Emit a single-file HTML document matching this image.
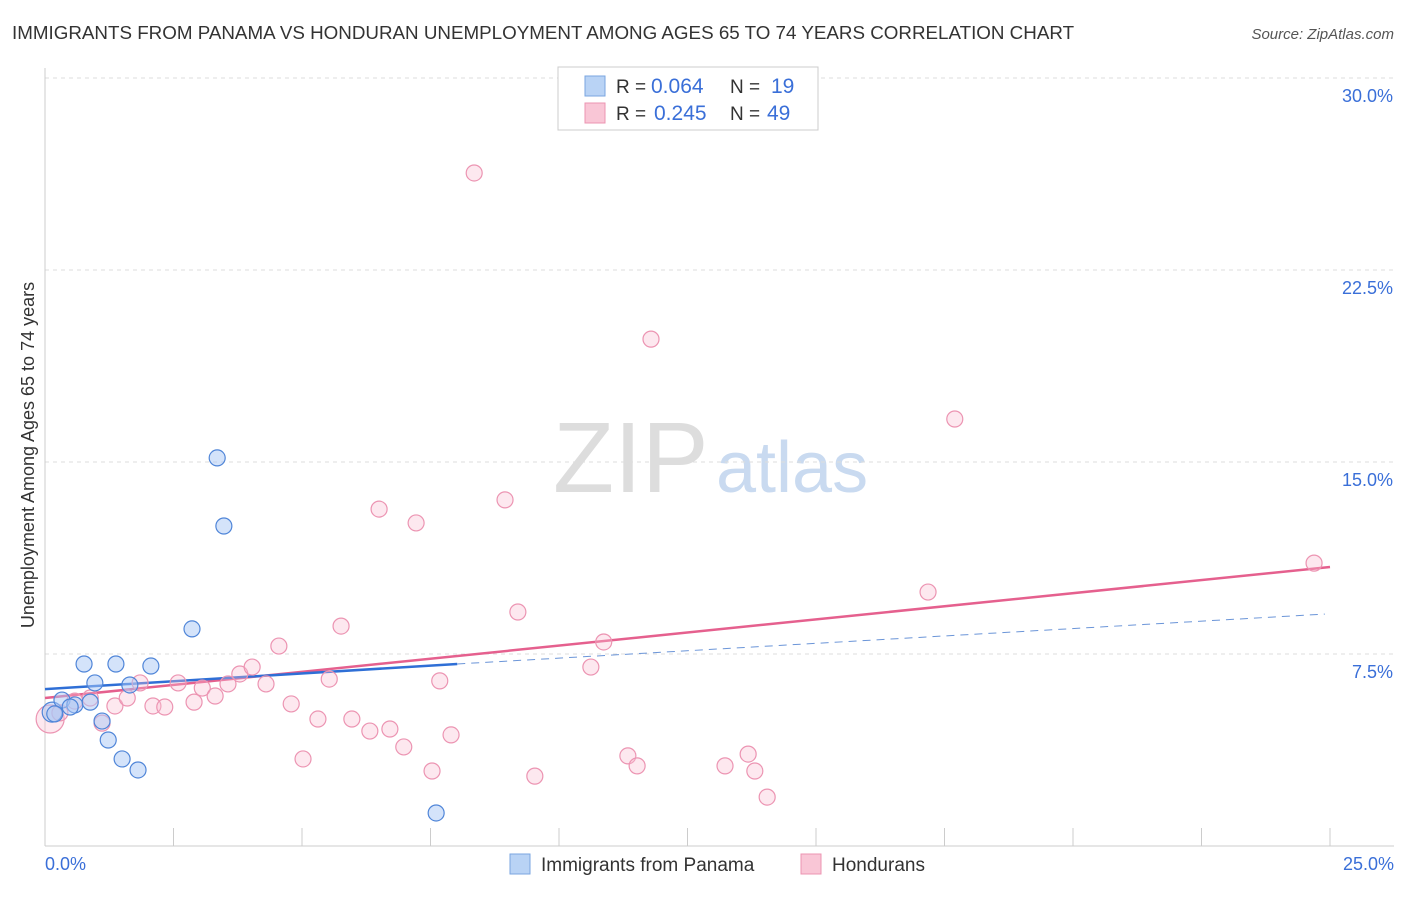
<!DOCTYPE html>
<html><head><meta charset="utf-8"><style>
body{margin:0;background:#fff;font-family:"Liberation Sans",sans-serif;}
svg text{font-family:"Liberation Sans",sans-serif;}
</style></head><body>
<svg id="chart" width="1406" height="892" xmlns="http://www.w3.org/2000/svg">
<text x="12" y="39" font-size="18.8" fill="#333">IMMIGRANTS FROM PANAMA VS HONDURAN UNEMPLOYMENT AMONG AGES 65 TO 74 YEARS CORRELATION CHART</text>
<text x="1394" y="39" font-size="15" fill="#555" text-anchor="end" font-style="italic">Source: ZipAtlas.com</text>
<g>
<text x="553" y="492" font-size="100" fill="#ddd" font-family="Liberation Serif,serif">ZIP</text>
<text x="716" y="492" font-size="72" fill="#c9daf0">atlas</text>
</g>
<g id="grid"></g><g id="axes"></g><g id="lines"></g><g id="pts"></g>
<text x="34" y="455" font-size="18" fill="#333" transform="rotate(-90 34 455)" text-anchor="middle">Unemployment Among Ages 65 to 74 years</text>
<text x="45" y="870" font-size="18" fill="#3a6fd8">0.0%</text>
<text x="1394" y="870" font-size="18" fill="#3a6fd8" text-anchor="end">25.0%</text>
<g>
<rect x="558" y="67" width="260" height="63" fill="#fff" stroke="#ccc"/>
<rect x="585" y="76" width="20" height="20" fill="#b9d3f5" stroke="#7aa6e0"/>
<rect x="585" y="103" width="20" height="20" fill="#f9c6d6" stroke="#ec94b2"/>
<text x="616" y="93" font-size="19" fill="#333">R = <tspan x="651" font-size="21" fill="#3a6fd8">0.064</tspan></text>
<text x="730" y="93" font-size="19" fill="#333">N = <tspan x="771" font-size="21" fill="#3a6fd8">19</tspan></text>
<text x="616" y="120" font-size="19" fill="#333">R = <tspan x="654" font-size="21" fill="#3a6fd8">0.245</tspan></text>
<text x="730" y="120" font-size="19" fill="#333">N = <tspan x="767" font-size="21" fill="#3a6fd8">49</tspan></text>
</g>
<g>
<rect x="510" y="854" width="20" height="20" fill="#b9d3f5" stroke="#7aa6e0"/>
<text x="541" y="871" font-size="19" fill="#333">Immigrants from Panama</text>
<rect x="801" y="854" width="20" height="20" fill="#f9c6d6" stroke="#ec94b2"/>
<text x="832" y="871" font-size="19" fill="#333">Hondurans</text>
</g>
</svg>
<script>
const yTicks=[7.5,15,22.5,30];
const yTickLabels=["7.5%","15.0%","22.5%","30.0%"];
const xTicks=[0,2.5,5,7.5,10,12.5,15,17.5,20,22.5,25];
const panamaX=[0.14,0.33,0.58,0.76,0.97,1.11,1.23,1.38,1.50,1.65,1.81,2.06,2.86,3.35,3.48,7.61,0.88,0.19,0.49];
const panamaY=[5.23,5.70,5.51,7.11,6.37,4.88,4.14,7.11,3.40,6.29,2.97,7.03,8.48,15.16,12.50,1.29,5.62,5.16,5.43];
const hondX=[0.10,0.29,0.58,0.88,1.11,1.36,1.60,1.85,2.10,2.33,2.59,2.90,3.06,3.31,3.56,3.79,4.03,4.30,4.55,4.79,5.02,5.31,5.53,5.76,5.97,6.32,6.50,6.71,6.98,7.22,7.53,7.68,7.90,8.35,8.95,9.20,9.53,10.62,10.87,11.34,11.52,11.79,13.23,13.68,13.81,14.05,17.18,17.70,24.69];
const hondY=[4.96,5.20,5.66,5.78,4.80,5.47,5.78,6.37,5.47,5.43,6.37,5.62,6.17,5.86,6.33,6.72,6.99,6.33,7.81,5.55,3.40,4.96,6.52,8.59,4.96,4.49,13.16,4.57,3.87,12.62,2.93,6.45,4.34,26.29,13.52,9.14,2.73,6.99,7.97,3.52,3.13,19.80,3.13,3.59,2.93,1.91,9.92,16.68,11.05];
const panamaTrend=[[0,6.13],[8.02,7.11]];
const panamaDash=[[8.02,7.11],[24.9,9.06]];
const hondTrend=[[0,5.78],[25,10.9]];
const NS="http://www.w3.org/2000/svg";
const sx=v=>45+v*51.4, sy=v=>846-v*25.6;
function mk(t,a,p){const e=document.createElementNS(NS,t);for(const k in a)e.setAttribute(k,a[k]);document.getElementById(p).appendChild(e);return e;}
yTicks.forEach((t,i)=>{
 const g=mk('line',{x1:45,x2:1394,y1:sy(t),y2:sy(t),stroke:'#ddd','stroke-dasharray':'4,4'},'grid');
 
 
 const l=mk('text',{x:1393,y:sy(t)+24,'font-size':18,fill:'#3a6fd8','text-anchor':'end'},'grid');l.textContent=yTickLabels[i];
 
 
});
const ax=mk('line',{x1:45,x2:45,y1:68,y2:846,stroke:'#ccc'},'axes');


const bx=mk('line',{x1:45,x2:1394,y1:846,y2:846,stroke:'#ccc'},'axes');


xTicks.forEach(t=>{const k=mk('line',{x1:sx(t),x2:sx(t),y1:828,y2:846,stroke:'#ccc'},'axes');
 
 });
function ln(seg,c,dash,name,w){const e=mk('line',{x1:sx(seg[0][0]),y1:sy(seg[0][1]),x2:sx(seg[1][0]),y2:sy(seg[1][1]),stroke:c,'stroke-width':w},'lines');if(dash)e.setAttribute('stroke-dasharray',dash);
 
 }
ln(hondTrend,'#e5608e',null,'hondurans-trend-line',2.5);
ln(panamaTrend,'#2f6fd6',null,'panama-trend-line',2.5);
ln(panamaDash,'#6b95d8','8,6','panama-trend-extension',1);
hondX.forEach((x,i)=>{const c=mk('circle',{cx:sx(x),cy:sy(hondY[i]),r:i==0?14:8,fill:'rgba(249,190,210,0.35)',stroke:'#ec94b2','stroke-width':1.2},'pts');
 
 });
panamaX.forEach((x,i)=>{const c=mk('circle',{cx:sx(x),cy:sy(panamaY[i]),r:i==0?10:8,fill:'rgba(170,200,245,0.5)',stroke:'#4f85d8','stroke-width':1.2},'pts');
 
 });
</script>
</body></html>
